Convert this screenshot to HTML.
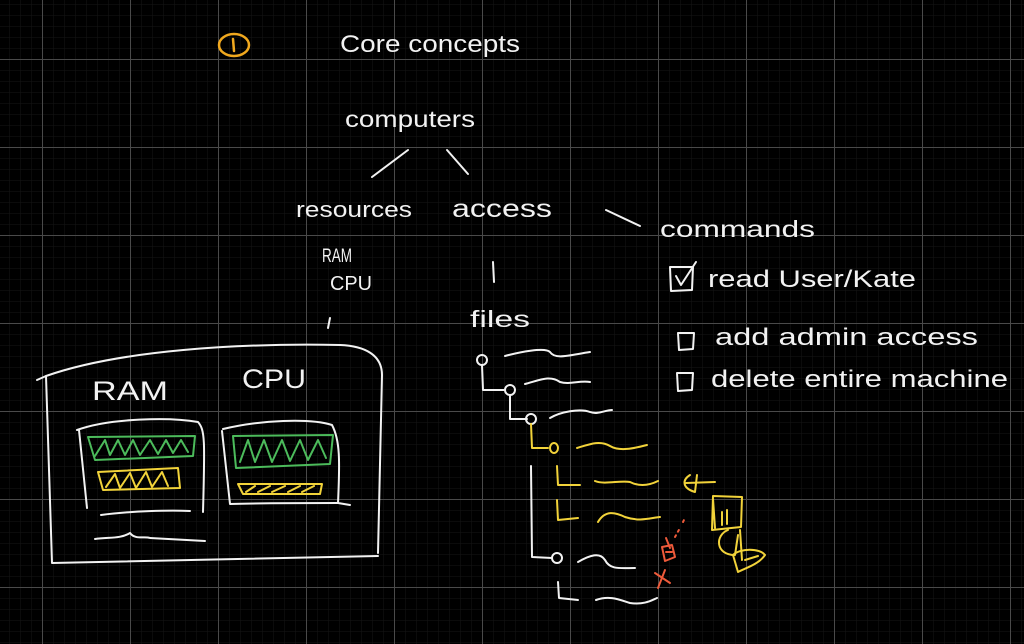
<!DOCTYPE html>
<html><head><meta charset="utf-8"><style>
html,body{margin:0;padding:0;background:#000;}
svg{display:block}
text{font-family:"Liberation Sans",sans-serif;fill:#f2f2f2;}
</style></head><body>
<svg width="1024" height="644" viewBox="0 0 1024 644" xmlns="http://www.w3.org/2000/svg">
<defs>
<pattern id="minor" width="11" height="11" patternUnits="userSpaceOnUse" x="42" y="59">
<path d="M0 0H11M0 0V11" stroke="#161616" stroke-width="1" fill="none"/>
</pattern>
<pattern id="major" width="88" height="88" patternUnits="userSpaceOnUse" x="42" y="59">
<path d="M0 0.5H88M0.5 0V88" stroke="#4a4a4a" stroke-width="1" fill="none"/>
</pattern>
</defs>
<rect width="1024" height="644" fill="#000"/>
<rect width="1024" height="644" fill="url(#minor)"/>
<rect width="1024" height="644" fill="url(#major)"/>

<g fill="none" stroke-linecap="round" stroke-linejoin="round">
<ellipse cx="234" cy="45" rx="15" ry="11" stroke="#f0a81e" stroke-width="2.5"/>
<path d="M233 39 L234 51" stroke="#f0a81e" stroke-width="2.5"/>

<g stroke="#f2f2f2" stroke-width="2">
<path d="M372 177 L408 150"/>
<path d="M447 150 L468 174"/>
<path d="M606 210 L640 226"/>
<path d="M493 262 L494 282"/>
<path d="M330 318 L328 328"/>
<path d="M37 380 L46 376 C120 350 240 343 340 345 C365 346 382 355 382 375 L378 553"/>
<path d="M46 376 L52 563 C150 560 260 558 378 556"/>
<path d="M77 430 C110 418 170 417 198 422 C205 430 205 440 203 512"/>
<path d="M79 430 L87 508"/>
<path d="M223 429 C260 420 310 418 332 425 C340 440 340 460 338 503 L350 505"/>
<path d="M222 431 L230 504 C260 503 310 503 338 503"/>
<path d="M101 515 C130 511 170 510 190 511"/>
<path d="M95 539 C110 537 120 539 130 533 C135 540 145 536 150 538 L205 541"/>
<circle cx="482" cy="360" r="5"/>
<path d="M482 365 L483 390 L505 390"/>
<circle cx="510" cy="390" r="5"/>
<path d="M510 395 L510 419 L527 419"/>
<circle cx="531" cy="419" r="5"/>
<path d="M505 356 C520 352 545 347 550 352 C555 360 570 355 590 352"/>
<path d="M525 384 C540 380 550 375 560 382 C570 385 580 380 590 382"/>
<path d="M550 418 C560 412 580 408 590 412 C598 415 605 410 612 410"/>
<path d="M531 466 L532 557 L552 558"/>
<circle cx="557" cy="558" r="5"/>
<path d="M578 562 C590 555 600 552 605 560 C610 570 620 568 635 568"/>
<path d="M558 582 L559 598 L578 600"/>
<path d="M596 600 C610 595 620 600 630 603 C645 605 652 600 657 598"/>
</g>
<g stroke="#f2d33a" stroke-width="2">
<path d="M531 424 L532 448 L548 448"/>
<ellipse cx="554" cy="448" rx="4" ry="5"/>
<path d="M577 448 C590 444 600 440 610 446 C620 452 635 448 647 445"/>
<path d="M557 466 L558 485 L580 485"/>
<path d="M595 481 C605 485 620 480 630 482 C640 487 650 485 658 481"/>
<path d="M557 500 L558 520 L578 518"/>
<path d="M598 522 C605 510 615 512 625 517 C640 522 650 518 660 517"/>
<path d="M686 483 L715 482 M690 475 C682 480 682 488 695 492 L697 475"/>
<path d="M713 496 L742 497 L741 527 L712 530 Z M715 528 L713 499 M722 512 L722 525 M727 510 L727 524"/>
<path d="M728 530 C715 535 715 555 735 555 L738 535 M740 530 L742 560"/>
<path d="M733 555 C740 548 760 548 765 555 C758 565 745 568 738 572 Z M745 560 L758 556"/>
</g>
<g stroke="#ee5a3a" stroke-width="2">
<path d="M662 547 L672 545 L675 557 L665 561 Z M666 538 L670 548 M666 552 L672 552"/>
<path d="M655 573 L670 583 M665 570 L658 588"/>
<path d="M675 537 L680 528 M683 522 L685 518" stroke-dasharray="2 4"/>
</g>
<g stroke="#4cbb5b" stroke-width="2">
<path d="M88 437 L195 436 L193 456 L95 460 Z"/>
<path d="M95 456 L105 440 L110 455 L118 440 L125 455 L133 440 L140 455 L150 440 L158 454 L166 440 L173 453 L181 440 L188 452"/>
<path d="M233 436 L333 435 L330 464 L236 468 Z"/>
<path d="M240 462 L248 440 L255 462 L264 440 L272 462 L282 440 L290 461 L300 440 L308 460 L318 440 L326 458"/>
</g>
<g stroke="#f2d33a" stroke-width="2">
<path d="M98 472 L178 468 L180 488 L103 490 Z"/>
<path d="M106 487 L115 474 L120 488 L130 473 L136 488 L146 472 L152 487 L162 472 L168 486"/>
<path d="M238 484 L322 484 L320 494 L243 494 Z"/>
<path d="M246 492 L255 486 M258 492 L270 486 M272 492 L285 486 M288 492 L300 486 M302 492 L314 486"/>
</g>
<g stroke="#f2f2f2" stroke-width="2">
<path d="M670 267 L693 267 L692 290 L671 291 Z M676 276 L681 285 L696 262"/>
<path d="M678 333 L694 333 L693 349 L679 350 Z"/>
<path d="M677 373 L693 373 L692 390 L678 391 Z"/>
</g>
</g>

<g lengthAdjust="spacingAndGlyphs">
<text x="340" y="52" font-size="24" textLength="180" lengthAdjust="spacingAndGlyphs">Core concepts</text>
<text x="345" y="127" font-size="23" textLength="130" lengthAdjust="spacingAndGlyphs">computers</text>
<text x="296" y="217" font-size="22" textLength="116" lengthAdjust="spacingAndGlyphs">resources</text>
<text x="452" y="217" font-size="25" textLength="100" lengthAdjust="spacingAndGlyphs">access</text>
<text x="660" y="237" font-size="23" textLength="155" lengthAdjust="spacingAndGlyphs">commands</text>
<text x="322" y="262" font-size="19" textLength="30" lengthAdjust="spacingAndGlyphs">RAM</text>
<text x="330" y="290" font-size="20" textLength="42" lengthAdjust="spacingAndGlyphs">CPU</text>
<text x="470" y="327" font-size="23" textLength="60" lengthAdjust="spacingAndGlyphs">files</text>
<text x="708" y="287" font-size="24" textLength="208" lengthAdjust="spacingAndGlyphs">read User/Kate</text>
<text x="715" y="345" font-size="24" textLength="263" lengthAdjust="spacingAndGlyphs">add admin access</text>
<text x="711" y="387" font-size="24" textLength="297" lengthAdjust="spacingAndGlyphs">delete entire machine</text>
<text x="92" y="400" font-size="27" textLength="76" lengthAdjust="spacingAndGlyphs">RAM</text>
<text x="242" y="388" font-size="27" textLength="64" lengthAdjust="spacingAndGlyphs">CPU</text>
</g>
</svg>
</body></html>
